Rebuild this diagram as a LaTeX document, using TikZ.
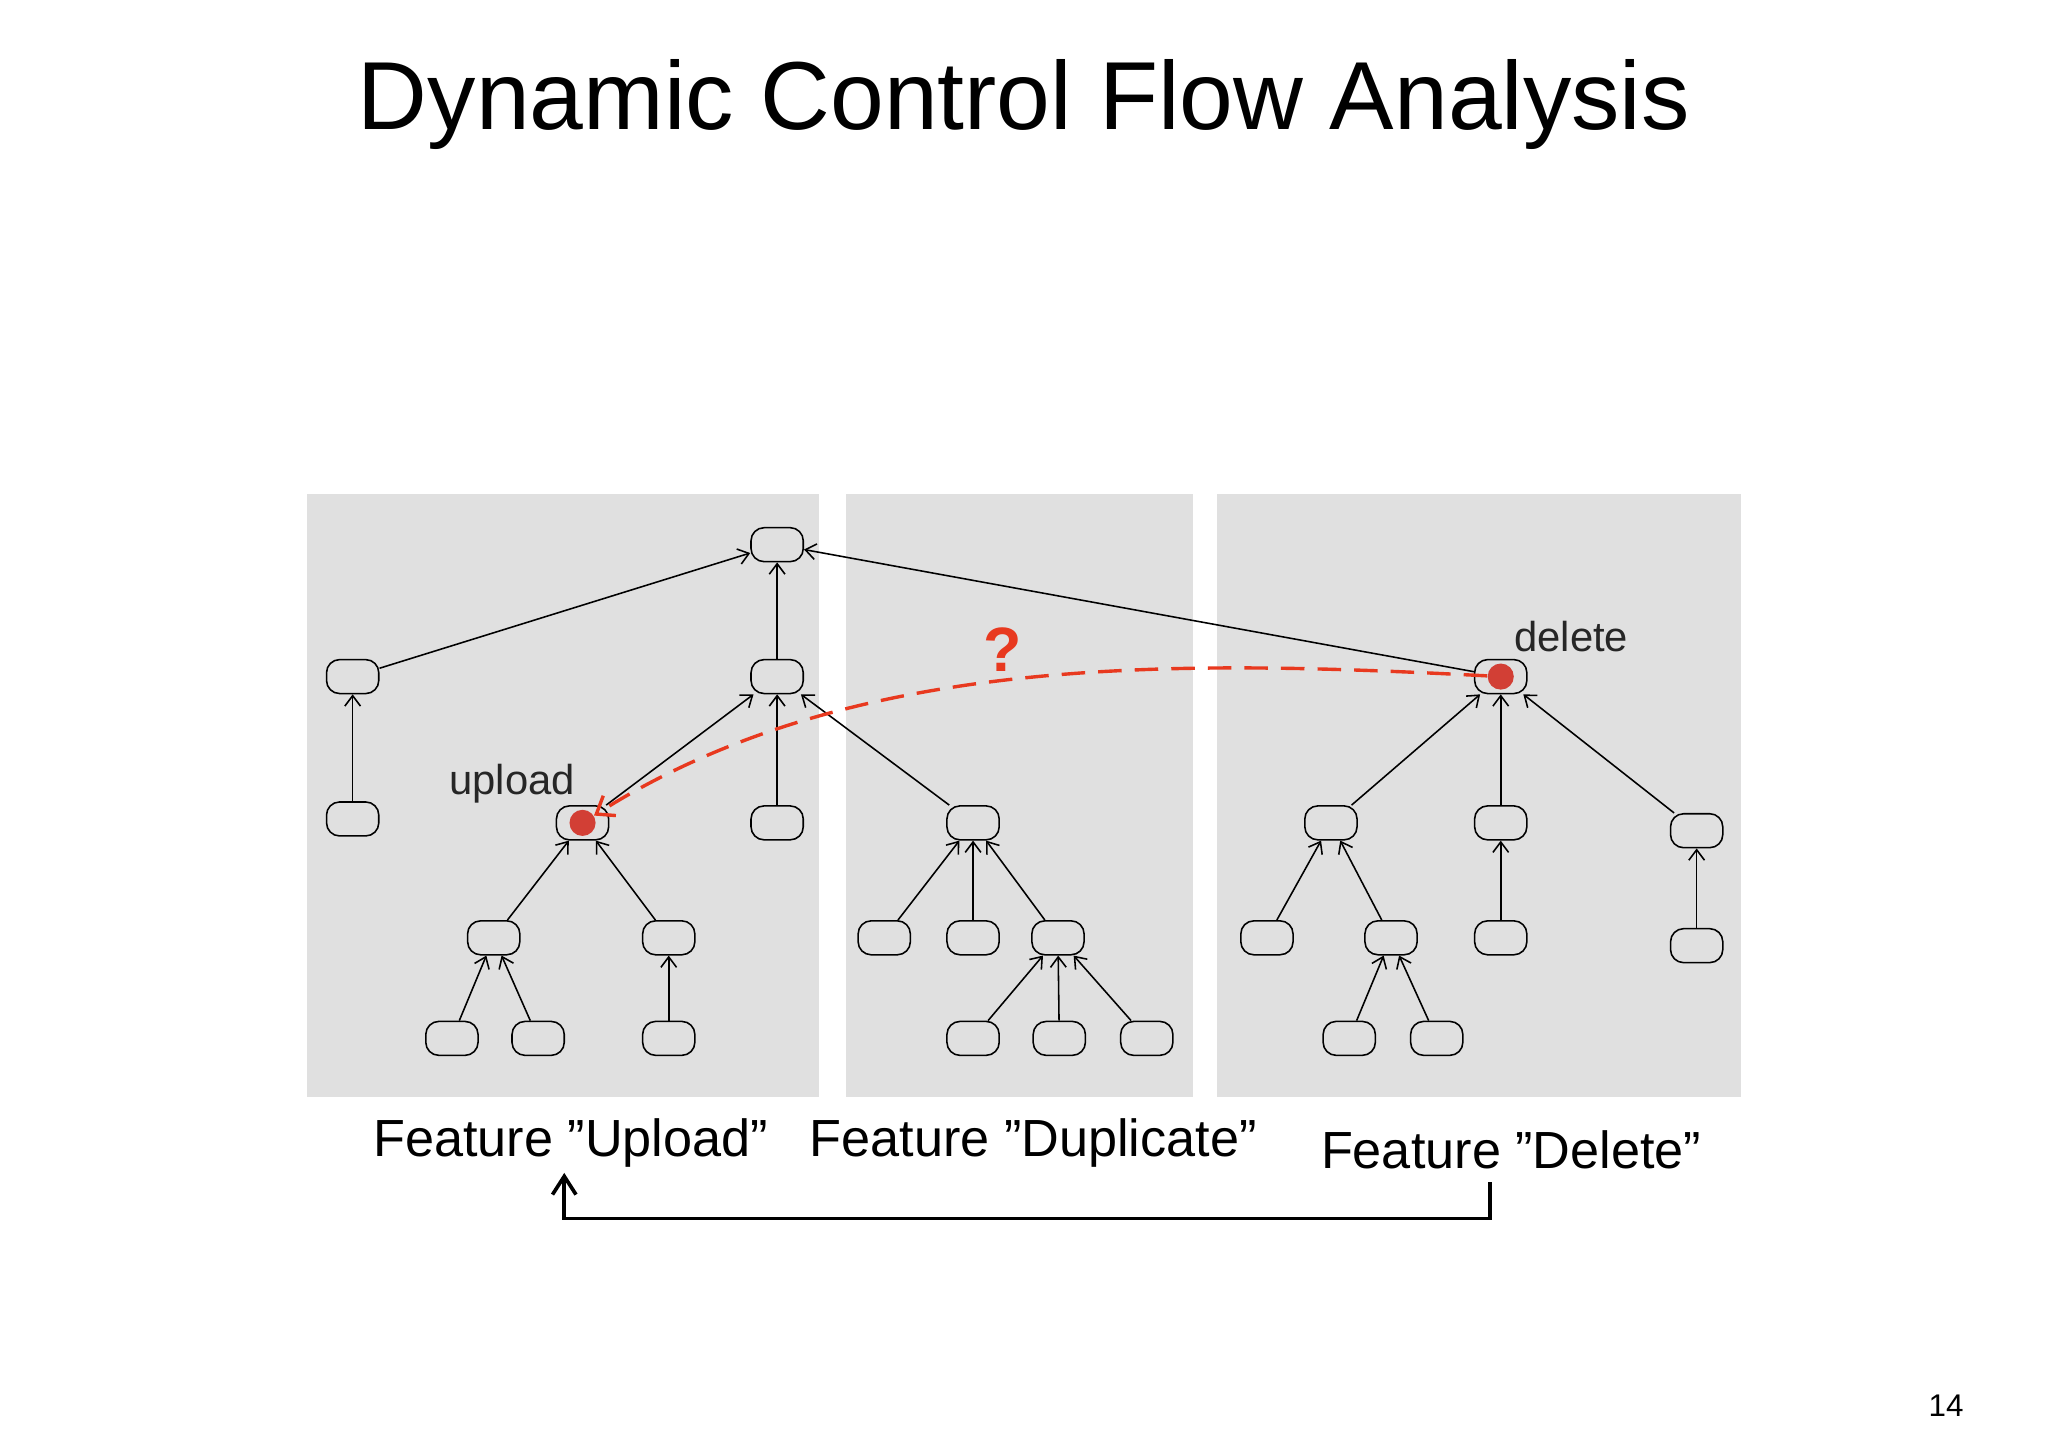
\documentclass[tikz,border=0pt]{standalone}
\usepackage{fontspec}
\setmainfont{Liberation Sans}
\usetikzlibrary{arrows.meta}
\definecolor{panel}{HTML}{E0E0E0}
\definecolor{rdot}{HTML}{D23F35}
\definecolor{rline}{HTML}{E8391F}
\begin{document}
\begin{tikzpicture}[x=0.5pt,y=-0.5pt,
  n/.style={draw,line width=0.6pt,rounded corners=5pt,minimum width=20pt,minimum height=13pt,inner sep=0pt,fill=panel},
  e/.style={-{Straight Barb[length=4pt,width=6pt]},line width=0.6pt},
  dot/.style={circle,fill=rdot,inner sep=0pt,minimum size=10pt}]
\fill[white] (0,0) rectangle (1568,1109);
\fill[panel] (235,378) rectangle (627,840);
\fill[panel] (648,378) rectangle (913,840);
\fill[panel] (932,378) rectangle (1333,840);
\node[font=\fontsize{37}{40}\selectfont] (title) at (784,80) {Dynamic Control Flow Analysis};
% nodes
\node[n] (top) at (595,417) {};
\node[n] (a) at (270,518) {};
\node[n] (b) at (595,518) {};
\node[n] (d) at (1149,518) {};
\node[n] (a1) at (270,627) {};
\node[n] (u) at (446,630) {};
\node[n] (b2) at (595,630) {};
\node[n] (c) at (745,630) {};
\node[n] (d1) at (1019,630) {};
\node[n] (d2) at (1149,630) {};
\node[n] (d3) at (1299,636) {};
\node[n] (u1) at (378,718) {};
\node[n] (u2) at (512,718) {};
\node[n] (c1) at (677,718) {};
\node[n] (c2) at (745,718) {};
\node[n] (c3) at (810,718) {};
\node[n] (d11) at (970,718) {};
\node[n] (d12) at (1065,718) {};
\node[n] (d21) at (1149,718) {};
\node[n] (d31) at (1299,724) {};
\node[n] (u11) at (346,795) {};
\node[n] (u12) at (412,795) {};
\node[n] (u21) at (512,795) {};
\node[n] (c31) at (745,795) {};
\node[n] (c32) at (811,795) {};
\node[n] (c33) at (878,795) {};
\node[n] (d121) at (1033,795) {};
\node[n] (d122) at (1100,795) {};
% edges
\foreach \s/\t in {a/top,b/top,d/top,a1/a,u/b,b2/b,c/b,d1/d,d2/d,d3/d,u1/u,u2/u,c1/c,c2/c,c3/c,d11/d1,d12/d1,d21/d2,d31/d3,u11/u1,u12/u1,u21/u2,c31/c3,c32/c3,c33/c3,d121/d12,d122/d12}
  \draw[e] (\s) -- (\t);
\node[dot] (ud) at (446,630) {};
\node[dot] (dd) at (1149,518) {};
\draw[rline,line width=1.3pt,dash pattern=on 9pt off 5pt,-{Straight Barb[length=6pt,width=9pt]}]
  (dd) .. controls (900,505) and (650,500) .. (ud);
\node[text=rline,font=\fontsize{24}{26}\selectfont\bfseries] (q) at (768,497) {?};
\node[font=\fontsize{16}{18}\selectfont,text=black!85] (ul) at (392,600) {upload};
\node[font=\fontsize{16}{18}\selectfont,text=black!85] (dl) at (1203,487) {delete};
\node[font=\fontsize{20}{22}\selectfont] (f1) at (437,875) {Feature "Upload"};
\node[font=\fontsize{20}{22}\selectfont] (f2) at (791,875) {Feature "Duplicate"};
\node[font=\fontsize{20}{22}\selectfont] (f3) at (1157,880) {Feature "Delete"};
\coordinate (s) at (1141,905);
\coordinate (t) at (432,898);
\draw[line width=1.4pt,-{Straight Barb[length=7pt,width=9pt]}] (s) -- (1141,933) -- (432,933) -- (t);
\node[font=\fontsize{12}{14}\selectfont] (pg) at (1490,1076) {14};
\end{tikzpicture}
\end{document}
